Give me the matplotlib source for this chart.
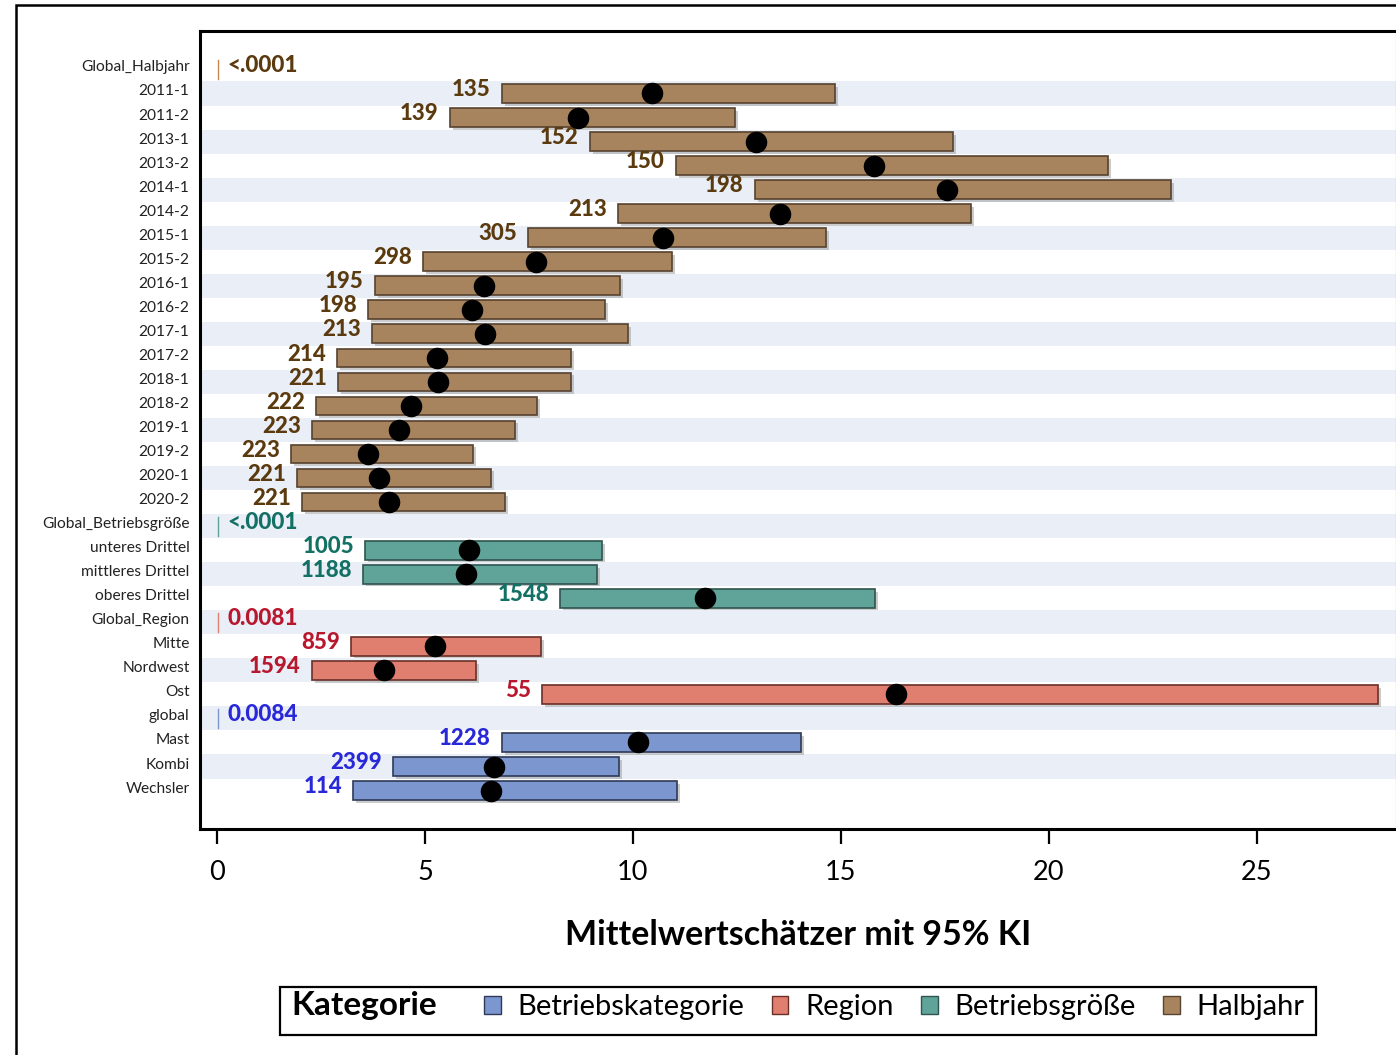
import matplotlib
matplotlib.use("Agg")
import matplotlib.pyplot as plt
import matplotlib.patheffects as pe
from matplotlib.patches import Rectangle, Patch
from matplotlib.transforms import ScaledTranslation

plt.rcParams['font.family'] = ['Lato', 'DejaVu Sans']

# ---------------- data ----------------
categories = ["Global_Halbjahr", "2011-1", "2011-2", "2013-1", "2013-2", "2014-1", "2014-2",
              "2015-1", "2015-2", "2016-1", "2016-2", "2017-1", "2017-2", "2018-1", "2018-2",
              "2019-1", "2019-2", "2020-1", "2020-2",
              "Global_Betriebsgröße", "unteres Drittel", "mittleres Drittel", "oberes Drittel",
              "Global_Region", "Mitte", "Nordwest", "Ost",
              "global", "Mast", "Kombi", "Wechsler"]
groups = (["Halbjahr"] * 19 + ["Betriebsgröße"] * 4 + ["Region"] * 4 + ["Betriebskategorie"] * 4)
is_global = [True] + [False] * 18 + [True] + [False] * 3 + [True] + [False] * 3 + [True] + [False] * 3

lower = [0, 6.85, 5.60, 8.97, 11.03, 12.93, 9.64, 7.48, 4.95, 3.80, 3.63, 3.73, 2.88, 2.91, 2.38,
         2.28, 1.78, 1.92, 2.04,
         0, 3.56, 3.51, 8.25,
         0, 3.22, 2.28, 7.81,
         0, 6.85, 4.23, 3.27]
upper = [0, 14.86, 12.45, 17.69, 21.42, 22.93, 18.13, 14.64, 10.94, 9.69, 9.33, 9.88, 8.51, 8.51, 7.69,
         7.16, 6.15, 6.59, 6.92,
         0, 9.25, 9.13, 15.82,
         0, 7.79, 6.23, 27.91,
         0, 14.04, 9.66, 11.06]
estimate = [None, 10.46, 8.68, 12.96, 15.79, 17.55, 13.53, 10.72, 7.67, 6.42, 6.13, 6.44, 5.29, 5.31, 4.66,
            4.38, 3.63, 3.89, 4.13,
            None, 6.06, 5.99, 11.73,
            None, 5.24, 4.01, 16.32,
            None, 10.12, 6.66, 6.59]
labels = ["<.0001", "135", "139", "152", "150", "198", "213", "305", "298", "195", "198", "213",
          "214", "221", "222", "223", "223", "221", "221",
          "<.0001", "1005", "1188", "1548",
          "0.0081", "859", "1594", "55",
          "0.0084", "1228", "2399", "114"]
x_ticks = [0, 5, 10, 15, 20, 25]
legend_order = ["Betriebskategorie", "Region", "Betriebsgröße", "Halbjahr"]

# ---------------- styles ----------------
fill = {"Halbjahr": "#A8845E", "Betriebsgröße": "#5FA399", "Region": "#E07F70", "Betriebskategorie": "#7C96CF"}
edge = {"Halbjahr": "#574330", "Betriebsgröße": "#2F5550", "Region": "#6A3028", "Betriebskategorie": "#2E3A58"}
tcol = {"Halbjahr": "#5A3A0E", "Betriebsgröße": "#137064", "Region": "#B8182E", "Betriebskategorie": "#2828D8"}
gline = {"Halbjahr": "#C8874E", "Betriebsgröße": "#5FA399", "Region": "#E07F70", "Betriebskategorie": "#7C96CF"}

W, H = 1396, 1055
fig = plt.figure(figsize=(W / 100, H / 100), dpi=100)

# outer frame
fig.add_artist(Rectangle((16 / W, -0.02), 1.1, 1 - 5 / H + 0.02, transform=fig.transFigure,
                         fill=False, edgecolor="black", linewidth=1.8))

ax = fig.add_axes([200 / W, (H - 829) / H, (1397 - 200) / W, (829 - 31) / H])
n = len(categories)
ypos = list(range(n))
ax.set_ylim(n - 1 + 1.6, -1.6)
ax.set_xlim(-0.409, 28.37)

# bands
for i in ypos:
    if i % 2 == 1:
        ax.axhspan(i - 0.5, i + 0.5, color="#E9EEF7", zorder=0, linewidth=0)

shadow = [pe.SimplePatchShadow(offset=(2, -2), shadow_rgbFace="#999999", alpha=0.5), pe.Normal()]

for i in ypos:
    g = groups[i]
    if is_global[i]:
        ax.plot([0.03, 0.03], [i - 0.4, i + 0.4], color=gline[g], lw=1.0, zorder=3)
        ax.annotate(labels[i], xy=(0, i), xytext=(7.5, 2.8), textcoords="offset points",
                    ha="left", va="center", fontsize=16.2, fontweight="black", color=tcol[g])
    else:
        ax.barh(i, upper[i] - lower[i], left=lower[i], height=0.78, color=fill[g],
                edgecolor=edge[g], linewidth=1.2, zorder=3, path_effects=shadow)
        ax.plot(estimate[i], i, "o", color="black", markersize=14.5, zorder=5)
        ax.annotate(labels[i], xy=(lower[i], i), xytext=(-8, 2.8), textcoords="offset points",
                    ha="right", va="center", fontsize=16, fontweight="black", color=tcol[g])

ax.set_yticks(ypos)
ax.set_yticklabels(categories, fontsize=11.2, color="#222222")
ax.tick_params(axis="y", length=0, pad=7.5)
off = ScaledTranslation(0, 3.5 / 100, fig.dpi_scale_trans)
for lab in ax.get_yticklabels():
    lab.set_transform(lab.get_transform() + off)

ax.set_xticks(x_ticks)
ax.set_xticklabels([str(v) for v in x_ticks], fontsize=19.5)
ax.tick_params(axis="x", length=11, width=1.6, pad=11, direction="out")
ax.set_xlabel("Mittelwertschätzer mit 95% KI", fontsize=24.5, fontweight="bold", labelpad=25)

for s in ["left", "bottom", "top", "right"]:
    ax.spines[s].set_linewidth(2.2)
    ax.spines[s].set_color("black")

# legend box
fig.add_artist(Rectangle((280 / W, (H - 1035) / H), (1316 - 280) / W, 48 / H, transform=fig.transFigure,
                         fill=False, edgecolor="black", linewidth=1.6))
fig.text(291 / W, (H - 1006) / H, "Kategorie", fontsize=24, fontweight="bold", ha="left", va="center")
handles = [Patch(facecolor=fill[g], edgecolor=edge[g], linewidth=1.0, label=g) for g in legend_order]
fig.legend(handles=handles, loc="center left", bbox_to_anchor=(484 / W, (H - 1007) / H), ncol=4,
           frameon=False, fontsize=21, handlelength=0.58, handleheight=0.58, handletextpad=0.58,
           columnspacing=0.92, borderaxespad=0, borderpad=0)

fig.savefig("out.png", dpi=100)
